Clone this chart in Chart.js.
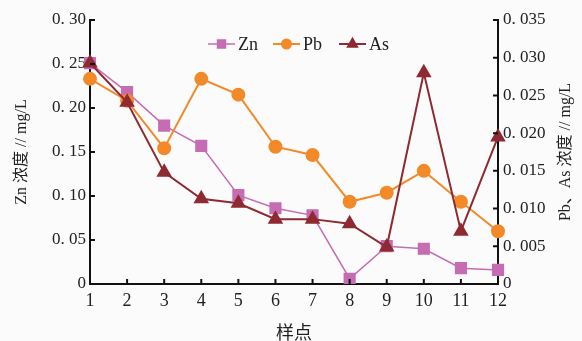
<!DOCTYPE html>
<html>
<head>
<meta charset="utf-8">
<script src="https://cdn.jsdelivr.net/npm/chart.js@4"></script>
<style>
  html, body { margin: 0; padding: 0; background: #fbfbfb; }
  #wrap { position: relative; width: 582px; height: 341px; }
</style>
</head>
<body>
<div id="wrap"><canvas id="c" width="582" height="341"></canvas></div>
<script>
// --- Data ---
const samples = ['1', '2', '3', '4', '5', '6', '7', '8', '9', '10', '11', '12'];
const znValues = [0.251, 0.218, 0.180, 0.157, 0.101, 0.086, 0.078, 0.006, 0.043, 0.040, 0.018, 0.016];
const pbValues = [0.0272, 0.0243, 0.0180, 0.0272, 0.0251, 0.0182, 0.0171, 0.0109, 0.0121, 0.0150, 0.0109, 0.0070];
const asValues = [0.0293, 0.0241, 0.0148, 0.0113, 0.0107, 0.0086, 0.0086, 0.0080, 0.0049, 0.0280, 0.0070, 0.0195];

const colors = { zn: '#c56cb3', pb: '#f28a2a', as: '#8e2a31' };
const fontFamily = "'Liberation Serif', 'Noto Sans CJK SC', serif";
const rightTitle = 'Pb、As 浓度 // mg/L';

// tick labels look like "0. 05"
function fmt(v, digits) {
    if (Math.abs(v) < 1e-9) return '0';
    return v.toFixed(digits).replace('.', '. ');
}

// inward tick marks, right title (reads bottom-up) and custom legend
const decorPlugin = {
    id: 'decor',
    afterDraw(chart) {
        const ctx = chart.ctx;
        const { x, y, y1 } = chart.scales;
        const len = 5;
        ctx.save();
        ctx.strokeStyle = '#111';
        ctx.lineWidth = 2;
        ctx.beginPath();
        y.ticks.forEach(t => {
            const py = y.getPixelForValue(t.value);
            ctx.moveTo(x.left, py); ctx.lineTo(x.left + len, py);
        });
        y1.ticks.forEach(t => {
            const py = y1.getPixelForValue(t.value);
            ctx.moveTo(x.right, py); ctx.lineTo(x.right - len, py);
        });
        x.ticks.forEach((t, i) => {
            const px = x.getPixelForTick(i);
            ctx.moveTo(px, y.bottom); ctx.lineTo(px, y.bottom - len);
        });
        ctx.stroke();

        // right axis title
        ctx.save();
        ctx.translate(566, (y1.top + y1.bottom) / 2);
        ctx.rotate(-Math.PI / 2);
        ctx.fillStyle = '#222';
        ctx.font = '16px ' + fontFamily;
        ctx.textAlign = 'center';
        ctx.textBaseline = 'middle';
        ctx.fillText(rightTitle, 0, 0);
        ctx.restore();

        // legend
        const items = [
            { idx: 0, x0: 208 },
            { idx: 1, x0: 273 },
            { idx: 2, x0: 339 }
        ];
        const ly = 44;
        items.forEach(it => {
            const ds = chart.data.datasets[it.idx];
            ctx.strokeStyle = ds.borderColor;
            ctx.lineWidth = ds.borderWidth;
            ctx.beginPath();
            ctx.moveTo(it.x0, ly); ctx.lineTo(it.x0 + 27, ly);
            ctx.stroke();
            ctx.fillStyle = ds.pointBackgroundColor;
            ctx.strokeStyle = ds.pointBackgroundColor;
            Chart.helpers.drawPoint(ctx, { pointStyle: ds.pointStyle, radius: ds.pointRadius * 0.75, borderWidth: 1 }, it.x0 + 13.5, ly);
            ctx.fillStyle = '#222';
            ctx.font = '18px ' + fontFamily;
            ctx.textBaseline = 'middle';
            ctx.textAlign = 'left';
            ctx.fillText(ds.label, it.x0 + 30, ly + 1);
        });
        ctx.restore();
    }
};

// --- Chart ---
const ctx = document.getElementById('c').getContext('2d');
new Chart(ctx, {
    type: 'line',
    data: {
        labels: samples,
        datasets: [
            {
                label: 'Zn', data: znValues, yAxisID: 'y',
                borderColor: colors.zn, backgroundColor: colors.zn, pointBackgroundColor: colors.zn,
                pointBorderColor: colors.zn, borderWidth: 1.5, pointStyle: 'rect', pointRadius: 7.5, order: 3
            },
            {
                label: 'Pb', data: pbValues, yAxisID: 'y1',
                borderColor: colors.pb, backgroundColor: colors.pb, pointBackgroundColor: colors.pb,
                pointBorderColor: colors.pb, borderWidth: 2, pointStyle: 'circle', pointRadius: 6, order: 2
            },
            {
                label: 'As', data: asValues, yAxisID: 'y1',
                borderColor: colors.as, backgroundColor: colors.as, pointBackgroundColor: colors.as,
                pointBorderColor: colors.as, borderWidth: 2, pointStyle: 'triangle', pointRadius: 7, order: 1
            }
        ]
    },
    options: {
        responsive: false,
        animation: false,
        layout: { padding: { top: 20, left: 0, right: 0, bottom: 0 } },
        plugins: { legend: { display: false }, tooltip: { enabled: false } },
        elements: { line: { tension: 0 }, point: { borderWidth: 1 } },
        scales: {
            x: {
                type: 'category',
                offset: false,
                grid: { display: false, drawTicks: false },
                border: { display: true, color: '#111', width: 2 },
                ticks: { color: '#222', padding: 6, maxRotation: 0, font: { family: fontFamily, size: 18 } },
                title: { display: true, text: '样点', color: '#222', padding: { top: 0, bottom: -4 }, font: { family: fontFamily, size: 18 } },
                afterFit: s => { s.height = 57; }
            },
            y: {
                position: 'left',
                min: 0, max: 0.30,
                grid: { display: false, drawTicks: false },
                border: { display: true, color: '#111', width: 2 },
                ticks: { stepSize: 0.05, color: '#222', padding: 4, font: { family: fontFamily, size: 17 }, callback: v => fmt(v, 2) },
                title: { display: true, text: 'Zn 浓度 // mg/L', color: '#222', padding: { top: 12, bottom: 0 }, font: { family: fontFamily, size: 16 } },
                afterFit: s => { s.width = 90; }
            },
            y1: {
                position: 'right',
                min: 0, max: 0.035,
                grid: { display: false, drawTicks: false },
                border: { display: true, color: '#111', width: 2 },
                ticks: { stepSize: 0.005, color: '#222', padding: 5, font: { family: fontFamily, size: 17 }, callback: v => fmt(v, 3) },
                afterFit: s => { s.width = 84; }
            }
        }
    },
    plugins: [decorPlugin]
});
</script>
</body>
</html>
